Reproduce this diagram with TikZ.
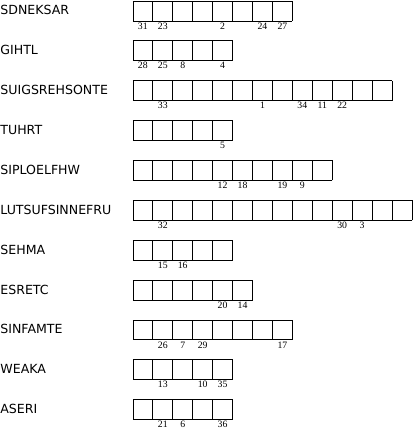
\documentclass[tikz,border=0pt]{standalone}
\usepackage{fontspec}
\setmainfont{DejaVu Sans}
\newfontfamily\numfont{Liberation Serif}
\usepackage{tikz}

\tikzset{
  word/.style={anchor=base west,inner sep=0pt,font=\fontsize{12.6}{14}\selectfont},
  num/.style={anchor=base,inner sep=0pt,font=\numfont\fontsize{9.8}{11}\selectfont}
}

\begin{document}
\begin{tikzpicture}[thick,x=20pt,y=20pt,step=20pt,line join=round]
      \useasboundingbox (-6.667,0.05) rectangle (14.033,-21.47);
      % rows of boxes
      \draw (0,-1)  grid (8,0);
      \draw (0,-3)  grid (5,-2);
      \draw (0,-5)  grid (13,-4);
      \draw (0,-7)  grid (5,-6);
      \draw (0,-9)  grid (10,-8);
      \draw (0,-11) grid (14,-10);
      \draw (0,-13) grid (5,-12);
      \draw (0,-15) grid (6,-14);
      \draw (0,-17) grid (8,-16);
      \draw (0,-19) grid (5,-18);
      \draw (0,-21) grid (5,-20);
      % words
      \node[word] (w1)  at (-6.667,-0.7)  {SDNEKSAR};
      \node[word] (w2)  at (-6.667,-2.7)  {GIHTL};
      \node[word] (w3)  at (-6.667,-4.7)  {SUIGSREHSONTE};
      \node[word] (w4)  at (-6.667,-6.7)  {TUHRT};
      \node[word] (w5)  at (-6.667,-8.7)  {SIPLOELFHW};
      \node[word] (w6)  at (-6.667,-10.7) {LUTSUFSINNEFRU};
      \node[word] (w7)  at (-6.667,-12.7) {SEHMA};
      \node[word] (w8)  at (-6.667,-14.7) {ESRETC};
      \node[word] (w9)  at (-6.667,-16.7) {SINFAMTE};
      \node[word] (w10) at (-6.667,-18.7) {WEAKA};
      \node[word] (w11) at (-6.667,-20.7) {ASERI};
      % numbers under the boxes
      \node[num] (n31) at (0.5,-1.41) {31};
      \node[num] (n23) at (1.5,-1.41) {23};
      \node[num] (n2)  at (4.5,-1.41) {2};
      \node[num] (n24) at (6.5,-1.41) {24};
      \node[num] (n27) at (7.5,-1.41) {27};
      \node[num] (n28) at (0.5,-3.41) {28};
      \node[num] (n25) at (1.5,-3.41) {25};
      \node[num] (n8)  at (2.5,-3.41) {8};
      \node[num] (n4)  at (4.5,-3.41) {4};
      \node[num] (n33) at (1.5,-5.41) {33};
      \node[num] (n1)  at (6.5,-5.41) {1};
      \node[num] (n34) at (8.5,-5.41) {34};
      \node[num] (n11) at (9.5,-5.41) {11};
      \node[num] (n22) at (10.5,-5.41) {22};
      \node[num] (n5)  at (4.5,-7.41) {5};
      \node[num] (n12) at (4.5,-9.41) {12};
      \node[num] (n18) at (5.5,-9.41) {18};
      \node[num] (n19) at (7.5,-9.41) {19};
      \node[num] (n9)  at (8.5,-9.41) {9};
      \node[num] (n32) at (1.5,-11.41) {32};
      \node[num] (n30) at (10.5,-11.41) {30};
      \node[num] (n3)  at (11.5,-11.41) {3};
      \node[num] (n15) at (1.5,-13.41) {15};
      \node[num] (n16) at (2.5,-13.41) {16};
      \node[num] (n20) at (4.5,-15.41) {20};
      \node[num] (n14) at (5.5,-15.41) {14};
      \node[num] (n26) at (1.5,-17.41) {26};
      \node[num] (n7)  at (2.5,-17.41) {7};
      \node[num] (n29) at (3.5,-17.41) {29};
      \node[num] (n17) at (7.5,-17.41) {17};
      \node[num] (n13) at (1.5,-19.41) {13};
      \node[num] (n10) at (3.5,-19.41) {10};
      \node[num] (n35) at (4.5,-19.41) {35};
      \node[num] (n21) at (1.5,-21.41) {21};
      \node[num] (n6)  at (2.5,-21.41) {6};
      \node[num] (n36) at (4.5,-21.41) {36};
\end{tikzpicture}
\end{document}
